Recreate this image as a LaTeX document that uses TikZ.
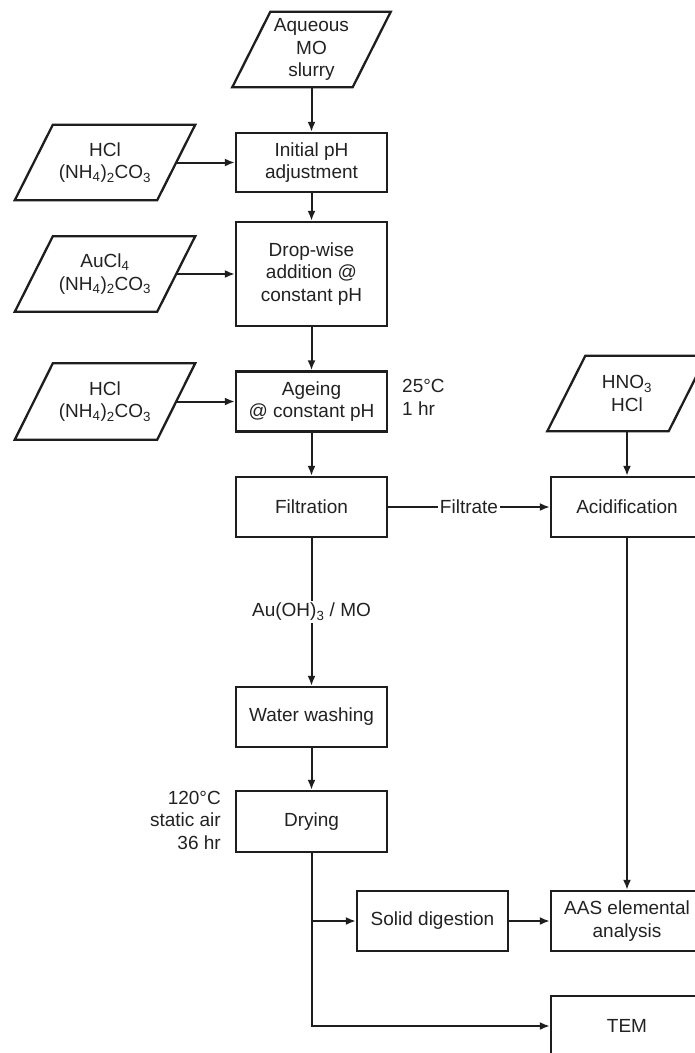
\documentclass[tikz,border=0pt]{standalone}
\usepackage{fontspec}
\setmainfont{Liberation Sans}
\usetikzlibrary{arrows.meta,calc}
\definecolor{ln}{HTML}{1E1E1E}
\definecolor{txt}{HTML}{222222}
\begin{document}
\begin{tikzpicture}[x=1pt,y=-1pt,
  every node/.style={font=\fontsize{19}{22.5}\selectfont, text=txt},
  box/.style={draw=ln, line width=2.3pt, align=center, inner sep=1pt},
  para/.style={align=center, inner sep=1pt, minimum width=142pt, minimum height=75pt},
  outline/.style={draw=ln, line width=2.3pt, line join=miter},
  conn/.style={draw=ln, line width=2pt, -{Latex[length=10pt,width=8pt]}},
  lab/.style={fill=white, inner sep=2pt},
]
\useasboundingbox (0,0) rectangle (695,1053);
\clip (0,0) rectangle (695,1053);
\fill[white] (0,0) rectangle (695,1053);

% main column
\node[para, minimum width=120pt] (mo) at (311.5,49.5) {Aqueous\\MO\\slurry};
\node[box, minimum width=151pt, minimum height=59pt] (init) at (311.5,162.5) {Initial pH\\adjustment};
\node[box, minimum width=151pt, minimum height=104pt] (drop) at (311.5,274) {Drop-wise\\addition @\\constant pH};
\node[box, minimum width=151pt, minimum height=60pt] (age) at (311.5,401.5) {Ageing\\@ constant pH};
\node[box, minimum width=151pt, minimum height=60pt] (filt) at (311.5,507) {Filtration};
\node[box, minimum width=151pt, minimum height=60pt] (wash) at (311.5,717) {Water washing};
\node[box, minimum width=151pt, minimum height=61pt] (dry) at (311.5,821.5) {Drying};

% left inputs
\node[para] (p1) at (105,162.5) {HCl\\(NH\textsubscript{4})\textsubscript{2}CO\textsubscript{3}};
\node[para] (p2) at (105,274) {AuCl\textsubscript{4}\\(NH\textsubscript{4})\textsubscript{2}CO\textsubscript{3}};
\node[para, minimum height=76pt] (p3) at (105,401.5) {HCl\\(NH\textsubscript{4})\textsubscript{2}CO\textsubscript{3}};

% right column
\node[para, minimum width=121pt] (p4) at (627,393.5) {HNO\textsubscript{3}\\HCl};
\node[box, minimum width=152pt, minimum height=60pt] (acid) at (627,507) {Acidification};
\node[box, minimum width=151pt, minimum height=60pt] (solid) at (432.5,921) {Solid digestion};
\node[box, minimum width=152pt, minimum height=60pt] (aas) at (627,921) {AAS elemental\\analysis};
\node[box, minimum width=152pt, minimum height=60pt] (tem) at (627,1026) {TEM};

% condition notes
\node[anchor=west, align=left, inner sep=0pt] (n1) at (402,397.5) {25°C\\1 hr};
\node[anchor=east, align=right, inner sep=0pt] (n2) at (221,820) {120°C\\static air\\36 hr};

% parallelogram outlines
\foreach \n in {mo,p1,p2,p3,p4}{
  \draw[outline] ($(\n.north west)+(19,0)$) -- ($(\n.north east)+(19,0)$)
    -- ($(\n.south east)+(-19,0)$) -- ($(\n.south west)+(-19,0)$) -- cycle;
}

% connectors
\draw[conn] (mo.south) -- (init.north);
\draw[conn] (p1.east) -- (init.west);
\draw[conn] (init.south) -- (drop.north);
\draw[conn] (p2.east) -- (drop.west);
\draw[conn] (drop.south) -- (age.north);
\draw[conn] (p3.east) -- (age.west);
\draw[conn] (age.south) -- (filt.north);
\draw[conn] (filt.east) -- (acid.west) node[midway, lab] (fl) {Filtrate};
\draw[conn] (filt.south) -- (wash.north) node[midway, lab] (al) {Au(OH)\textsubscript{3} / MO};
\draw[conn] (wash.south) -- (dry.north);
\draw[conn] (p4.south) -- (acid.north);
\draw[conn] (acid.south) -- (aas.north);
\draw[conn] (dry.south) |- (tem.west);
\draw[conn] (dry.south |- solid.west) -- (solid.west);
\draw[conn] (solid.east) -- (aas.west);
\end{tikzpicture}
\end{document}
